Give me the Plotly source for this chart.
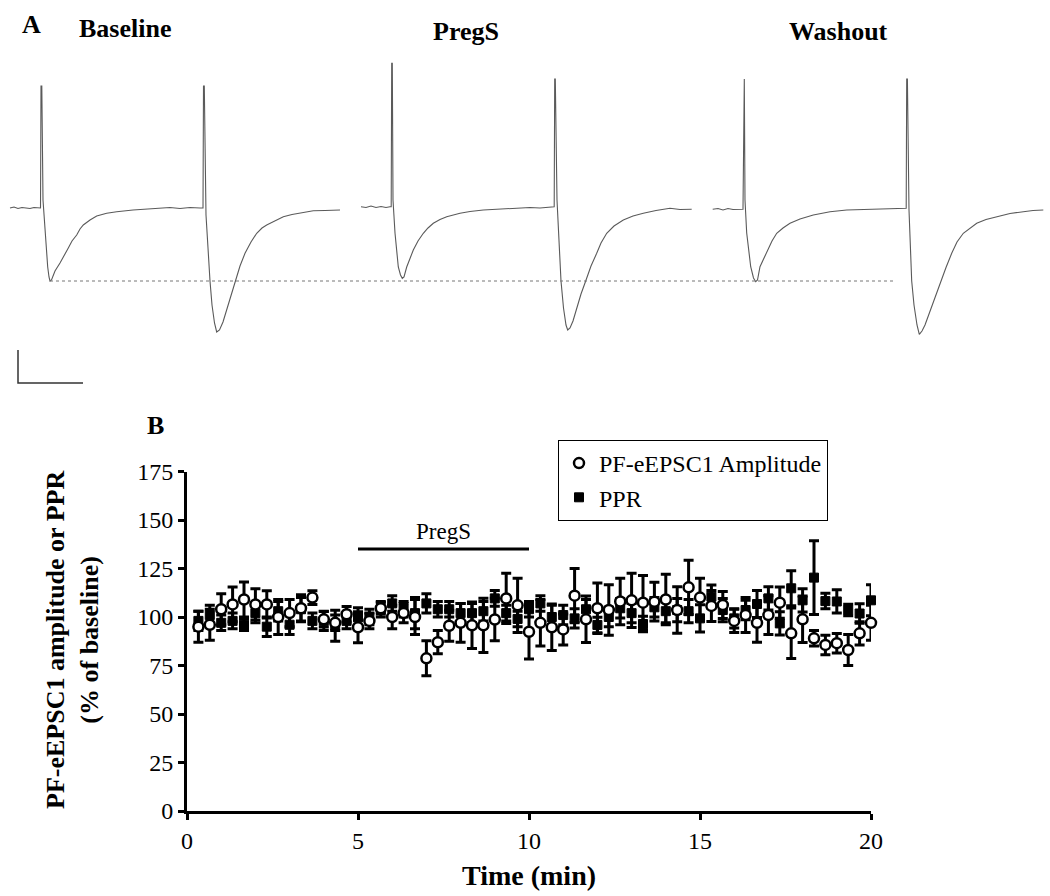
import plotly.graph_objects as go

# ---------------- Panel B data ----------------
time_min = [k / 3 for k in range(1, 61)]

amp_mean = [95, 96, 104, 106.5, 109, 106.5, 106.5, 100, 102, 104.5,
            110, 98.8, 97, 101.4, 94.7, 98, 104.5, 100, 102, 100,
            78.7, 87, 95.5, 97, 95.7, 95.7, 98.7, 109.6, 106, 92.4,
            97, 94.7, 93.6, 111, 98.8, 104.5, 103.6, 108, 108.6, 107.4,
            107.9, 109, 103.6, 115.3, 110, 105.7, 106.2, 98, 101, 97,
            101, 107.4, 91.6, 98.8, 89, 85.6, 86.5, 83, 91.6, 97]
amp_sem = [8, 8, 8, 9, 9, 8, 7, 9, 7, 7,
           3.5, 4, 4, 4, 8, 4, 3, 6, 5, 9,
           9, 6, 8, 10, 12, 14, 11, 13, 14, 14,
           12, 12, 8, 14, 12, 13, 13, 12, 14, 14,
           10, 13, 12, 14, 10, 8, 7, 6, 9, 10,
           10, 8, 13, 12, 4, 5, 5, 8, 6, 9]

ppr_mean = [98, 101, 97, 98, 96, 102, 95, 103, 96, 104,
            98, 98, 95.5, 98, 99.8, 100, 104, 107, 104, 102,
            107, 104, 104, 102, 102, 103, 109.6, 102, 99, 104,
            107, 100, 101, 99.3, 104, 95.9, 100, 104.5, 102, 96.4,
            105, 103, 103.6, 103, 99.3, 110.5, 103.6, 99.3, 103.6, 106.7,
            109.6, 96.7, 114.8, 108.6, 120.3, 108.2, 108, 103.6, 101.8, 108.6]
ppr_sem = [5, 5, 4, 4, 3, 5, 5, 5, 5, 6,
           4, 5, 8, 4, 5, 4, 4, 4, 4, 8,
           5, 4, 4, 5, 5, 5, 4, 4, 4, 4,
           4, 6, 5, 5, 5, 4, 5, 5, 5, 4,
           5, 6, 6, 6, 7, 6, 6, 5, 5, 7,
           6, 6, 9, 6, 19, 4, 6, 3, 5, 8]

drug_start, drug_end, drug_level = 5, 10, 135
drug_label = "PregS"

x_ticks = [0, 5, 10, 15, 20]
y_ticks = [0, 25, 50, 75, 100, 125, 150, 175]

# ---------------- Panel A data (trace samples, arbitrary units) ----------------
base_t = [10, 14, 18, 22, 26, 30, 34, 38, 40.5, 41, 41.8, 43, 45, 47.7, 49, 50,
          51.5, 53, 55, 60, 64, 68.3, 72, 76.7, 80, 83.3, 90, 96.7, 106.7, 116.7, 133, 150,
          160, 170, 180, 190, 200, 203, 203.5, 204.3, 206, 208, 210, 212, 214.5, 216.7,
          219.5, 223, 228, 231, 235, 240, 245, 251, 256.7, 262, 266.7, 275, 283.3, 292,
          300, 313.3, 325, 340]
base_i = [-208, -207, -208.5, -207.5, -208, -208.5, -207.5, -208, -208, -86, -86, -200, -233, -267, -277, -281,
          -280, -276, -271, -263, -255, -248, -241, -235, -229, -225, -220, -216, -213.3, -211.7, -210, -208.7,
          -208, -207.5, -208.5, -207.5, -208, -208, -86, -86, -215, -250, -281, -305, -323, -332,
          -330, -322, -305, -295, -281, -266, -253.3, -242, -233.3, -228, -225, -220.5, -216.7, -214.5,
          -213.3, -210.7, -210.5, -210]

pregs_t = [361, 366, 371, 376, 381, 386, 390, 391.2, 391.7, 392.3, 393, 395, 398.3, 400.5, 402.3,
           404, 406.7, 410, 413.3, 418, 423.3, 428, 433.3, 440, 446.7, 460, 470, 483.3, 500, 516.7,
           530, 540, 553.3, 554.2, 554.7, 555.3, 557, 559, 561, 563.5, 566, 567.7,
           570, 573, 577, 581, 585.7, 591, 596.7, 601, 606.7, 614, 623.3, 633, 643.3, 656, 670, 680, 691.7]
pregs_i = [-206.7, -207.5, -206, -207.5, -206.5, -207.5, -206.7, -206.7, -63.3, -63.3, -200, -233, -267, -275, -278.3,
           -277, -267, -258, -250, -241, -233.3, -228, -223.3, -219.5, -216.7, -213.3, -211.5, -210, -209, -208.3,
           -207.5, -208, -206.7, -206.7, -79, -79, -200, -245, -281, -308, -325, -330,
           -328, -321, -307, -294, -281, -266, -253.3, -243, -233.3, -226, -220, -216, -213.3, -210.5, -208.3, -209.5, -209.3]

wash_t = [712.7, 718, 723, 728, 733, 738, 742.5, 743, 743.6, 744.3, 745, 746.7, 750.7, 753.5, 755.7,
          757.5, 760, 764, 768.3, 772, 776.7, 783, 790, 800, 813.3, 830, 846.7, 860, 873.3, 890, 905,
          906.2, 906.7, 907.4, 909, 911.7, 914, 917, 919.3,
          922, 925, 929, 934, 941, 946, 951.7, 957, 963.3, 970, 976.7, 986, 996.7, 1010, 1023.3, 1033, 1043.3]
wash_i = [-209.3, -208.5, -210, -208.5, -209.5, -209, -209.3, -209.3, -79, -79, -200, -233, -266.7, -278, -281.7,
          -280, -266.7, -258, -250, -241, -233.3, -228, -223.3, -219, -215, -211.7, -210, -209.5, -209.3, -209, -208.3,
          -208.3, -79, -79, -210, -281, -305, -325, -334.3,
          -331, -325, -314, -299, -281, -267.5, -253.3, -242, -233.3, -228, -223.3, -219.5, -216.7, -213.5, -211.7, -210.5, -210]

ref_peak_t = [50, 895]
ref_peak_i = [-281, -281]

scalebar_t = [18, 18, 83]
scalebar_i = [-350, -383, -383]

sweep_labels = ["Baseline", "PregS", "Washout"]

FONT = "Liberation Serif"
W, H = 1050, 896
fig = go.Figure()


def px(x):
    return x / W


def py(y):
    return 1 - y / H


# ---------------- Panel A ----------------
for t, i in [(base_t, base_i), (pregs_t, pregs_i), (wash_t, wash_i)]:
    fig.add_trace(go.Scatter(x=t, y=i, mode="lines", line=dict(color="#5a5a5a", width=1.1),
                             xaxis="x2", yaxis="y2", showlegend=False, hoverinfo="skip"))
fig.add_trace(go.Scatter(x=ref_peak_t, y=ref_peak_i, mode="lines",
                         line=dict(color="#777777", width=1, dash="dot"),
                         xaxis="x2", yaxis="y2", showlegend=False, hoverinfo="skip"))
fig.add_trace(go.Scatter(x=scalebar_t, y=scalebar_i, mode="lines",
                         line=dict(color="#333333", width=1.5),
                         xaxis="x2", yaxis="y2", showlegend=False, hoverinfo="skip"))

# ---------------- Panel B ----------------
fig.add_trace(go.Scatter(
    x=time_min, y=ppr_mean, mode="markers", name="PPR", legendrank=2,
    marker=dict(symbol="square", size=9, color="black", line=dict(color="black", width=1)),
    error_y=dict(type="data", array=ppr_sem, color="black", thickness=3, width=5),
    cliponaxis=False))
fig.add_trace(go.Scatter(
    x=time_min, y=amp_mean, mode="markers", name="PF-eEPSC1 Amplitude", legendrank=1,
    marker=dict(symbol="circle", size=10, color="white", line=dict(color="black", width=2.5)),
    error_y=dict(type="data", array=amp_sem, color="black", thickness=3, width=5),
    cliponaxis=False))
fig.add_trace(go.Scatter(x=[drug_start, drug_end], y=[drug_level, drug_level], mode="lines",
                         line=dict(color="black", width=3), showlegend=False, hoverinfo="skip"))


def lab(x, y, text, size=26, angle=0):
    return dict(x=px(x), y=py(y), xref="paper", yref="paper", text=text, showarrow=False,
                xanchor="center", yanchor="middle", textangle=angle,
                font=dict(family=FONT, size=size, color="black"))


annotations = [
    dict(x=(drug_start + drug_end) / 2, y=drug_level, xref="x", yref="y", text=drug_label,
         showarrow=False, xanchor="center", yanchor="bottom", yshift=3,
         font=dict(family=FONT, size=23, color="black")),
    lab(31, 24, "<b>A</b>"),
    lab(125, 28, "<b>%s</b>" % sweep_labels[0]),
    lab(466, 31, "<b>%s</b>" % sweep_labels[1]),
    lab(838, 32, "<b>%s</b>" % sweep_labels[2]),
    lab(155, 425, "<b>B</b>"),
    lab(72, 640, "<b>PF-eEPSC1 amplitude or PPR</b><br><b>(% of baseline)</b>", 26, -90),
    lab(529, 875, "<b>Time (min)</b>", 28),
]

axis_common = dict(showline=True, linecolor="black", linewidth=3, ticks="outside", ticklen=6,
                   tickwidth=2.5, tickcolor="black", showgrid=False, zeroline=False,
                   automargin=False, tickfont=dict(family=FONT, size=24, color="black"))

fig.update_layout(
    width=W, height=H,
    margin=dict(l=0, r=0, t=0, b=0, autoexpand=False),
    paper_bgcolor="white", plot_bgcolor="white",
    font=dict(family=FONT, color="black"),
    xaxis=dict(domain=[px(187), px(871)], range=[0, 20], tickvals=x_ticks, **axis_common),
    yaxis=dict(domain=[py(811), py(471.5)], range=[0, 175], tickvals=y_ticks, **axis_common),
    xaxis2=dict(domain=[0, 1], range=[0, W], visible=False, anchor="y2", automargin=False),
    yaxis2=dict(domain=[py(400), 1], range=[-400, 0], visible=False, anchor="x2", automargin=False),
    legend=dict(x=px(558), y=py(440), xanchor="left", yanchor="top",
                bordercolor="black", borderwidth=1, bgcolor="white",
                font=dict(family=FONT, size=24, color="black"),
                tracegroupgap=0, itemsizing="trace", itemwidth=30),
    annotations=annotations,
    showlegend=True,
)

fig.write_html("out.html", config={"displayModeBar": False},
               post_script="document.body.style.margin='0';document.body.style.overflow='hidden';")
